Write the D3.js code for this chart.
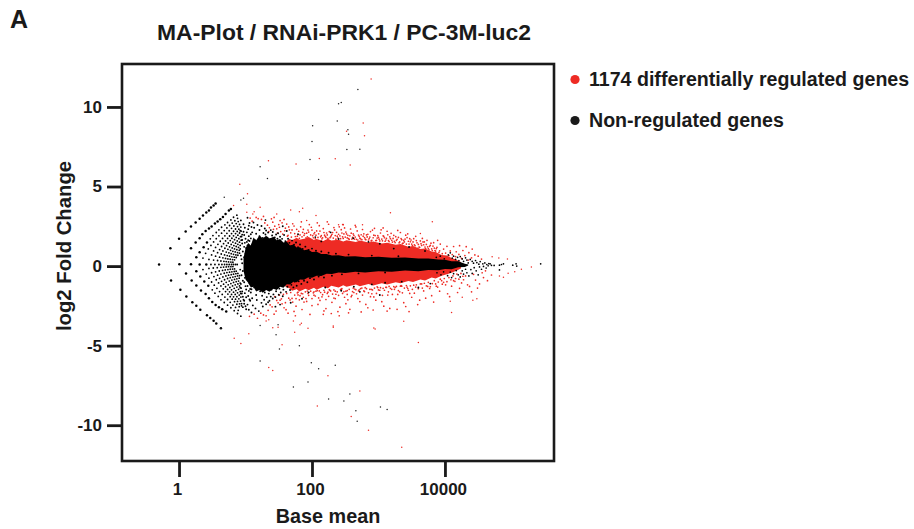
<!DOCTYPE html>
<html>
<head>
<meta charset="utf-8">
<script src="https://cdn.jsdelivr.net/npm/d3@7"></script>
<style>
  html, body { margin: 0; background: #fff; }
  text { font-family: "Liberation Sans", Arial, sans-serif; font-weight: bold; fill: #1a1a1a; }
</style>
</head>
<body>
<div id="plot"></div>
<script>
// all points are [log10 base mean, log2 fold change]

const xTicks = [1, 100, 10000];
const yTicks = [-10, -5, 0, 5, 10];
const legendLabels = ["1174 differentially regulated genes", "Non-regulated genes"];

// outer fan arcs (low counts), several genes stack on each dot
const fanOuter = [
  [-0.30,0.1],[-0.13,1.12],[0,1.71],[0.10,2.17],[0.18,2.49],[0.25,2.74],[0.31,2.97],[0.36,3.18],[0.41,3.37],[0.45,3.49],[0.48,3.68],[0.52,3.81],[0.55,3.93],
  [-0.12,-0.91],[0.02,-1.49],[0.11,-1.91],[0.20,-2.27],[0.26,-2.50],[0.32,-2.75],[0.42,-3.09],[0.47,-3.26],[0.52,-3.43],[0.56,-3.61],[0.63,-3.91],
  [0.005,0.12],[0.18,1.12],[0.25,1.48],[0.31,1.75],[0.35,2.0],[0.40,2.21],[0.45,2.36],[0.49,2.49],[0.54,2.67],[0.58,2.80],[0.62,2.95],[0.66,3.09],[0.70,3.28],[0.75,3.49],[0.78,3.58],
  [0.105,-0.47],[0.19,-0.91],[0.26,-1.22],[0.33,-1.54],[0.40,-1.75],[0.45,-2.02],[0.50,-2.25],[0.55,-2.44],[0.60,-2.59],[0.65,-2.72],[0.71,-2.85],
  [0.18,0.12],[0.26,0.56],[0.31,0.87],[0.37,1.19],[0.42,1.48],[0.26,-0.32],[0.32,-0.66],[0.38,-0.97],[0.44,-1.24],[0.31,0.1],[0.41,0.1]
];

// inner fan arcs, getting tighter towards the cloud
const fanInner = [
  [0.47,1.71],[0.51,1.92],[0.56,2.11],[0.60,2.28],[0.64,2.44],[0.69,2.59],[0.73,2.74],[0.78,2.9],[0.82,3.07],[0.87,3.2],
  [0.50,-1.49],[0.54,-1.7],[0.59,-1.91],[0.63,-2.12],[0.68,-2.29],[0.73,-2.46],[0.78,-2.62],[0.83,-2.8],[0.88,-2.98],[0.93,-3.15],
  [0.36,0.5],[0.40,0.8],[0.44,1.08],[0.48,1.3],[0.52,1.52],[0.56,1.72],[0.60,1.9],[0.64,2.07],[0.68,2.23],[0.72,2.4],[0.76,2.55],[0.8,2.7],[0.84,2.85],[0.88,3.0],
  [0.36,-0.22],[0.41,-0.5],[0.45,-0.76],[0.49,-1],[0.53,-1.2],[0.57,-1.4],[0.61,-1.6],[0.65,-1.78],[0.69,-1.95],[0.73,-2.1],[0.77,-2.28],[0.81,-2.45],[0.85,-2.6],[0.89,-2.78],
  [0.45,0.42],[0.49,0.7],[0.52,0.95],[0.55,1.17],[0.585,1.37],[0.62,1.56],[0.655,1.74],[0.69,1.9],[0.72,2.06],[0.755,2.22],[0.79,2.37],[0.825,2.52],[0.86,2.67],[0.89,2.8],
  [0.45,-0.15],[0.49,-0.42],[0.525,-0.66],[0.56,-0.86],[0.595,-1.06],[0.63,-1.25],[0.665,-1.43],[0.7,-1.6],[0.735,-1.76],[0.77,-1.92],[0.8,-2.08],[0.835,-2.24],[0.87,-2.4],[0.905,-2.55],
  [0.48,0.1],[0.52,0.38],[0.55,0.62],[0.58,0.84],[0.61,1.04],[0.64,1.23],[0.67,1.41],[0.70,1.58],[0.73,1.74],[0.76,1.89],[0.79,2.04],[0.82,2.19],[0.85,2.33],[0.88,2.48],[0.91,2.62],
  [0.515,-0.12],[0.55,-0.36],[0.58,-0.57],[0.61,-0.77],[0.64,-0.96],[0.67,-1.14],[0.70,-1.3],[0.73,-1.47],[0.76,-1.62],[0.79,-1.78],[0.82,-1.93],[0.85,-2.08],[0.88,-2.22],[0.91,-2.37],[0.94,-2.5],
  [0.54,0.1],[0.58,0.35],[0.61,0.56],[0.635,0.76],[0.66,0.95],[0.69,1.12],[0.715,1.29],[0.74,1.45],[0.77,1.6],[0.795,1.75],[0.82,1.9],[0.85,2.04],[0.875,2.18],[0.9,2.32],[0.93,2.45],
  [0.575,-0.1],[0.605,-0.31],[0.63,-0.5],[0.66,-0.68],[0.685,-0.86],[0.71,-1.02],[0.74,-1.18],[0.765,-1.34],[0.79,-1.49],[0.82,-1.64],[0.845,-1.78],[0.87,-1.92],[0.9,-2.06],[0.925,-2.2],
  [0.60,0.1],[0.63,0.32],[0.66,0.52],[0.685,0.7],[0.71,0.88],[0.735,1.05],[0.76,1.21],[0.785,1.36],[0.81,1.51],[0.835,1.66],[0.86,1.8],[0.885,1.94],[0.91,2.08],[0.935,2.2],
  [0.63,-0.08],[0.655,-0.27],[0.68,-0.45],[0.705,-0.62],[0.73,-0.78],[0.755,-0.94],[0.78,-1.1],[0.805,-1.25],[0.83,-1.4],[0.855,-1.54],[0.88,-1.68],[0.905,-1.82],[0.93,-1.95],
  [0.645,0.1],[0.675,0.3],[0.7,0.48],[0.725,0.66],[0.75,0.83],[0.775,0.99],[0.8,1.14],[0.825,1.29],[0.85,1.44],[0.875,1.58],[0.9,1.72],[0.925,1.85],[0.95,1.98],
  [0.67,-0.06],[0.695,-0.24],[0.72,-0.41],[0.745,-0.57],[0.77,-0.73],[0.795,-0.88],[0.82,-1.03],[0.845,-1.18],[0.87,-1.32],[0.895,-1.46],[0.92,-1.6],[0.945,-1.73],
  [0.685,0.1],[0.71,0.28],[0.735,0.45],[0.76,0.62],[0.785,0.78],[0.81,0.93],[0.835,1.08],[0.86,1.23],[0.885,1.37],[0.91,1.5],[0.935,1.63],
  [0.71,-0.05],[0.735,-0.22],[0.76,-0.38],[0.785,-0.54],[0.81,-0.69],[0.835,-0.84],[0.86,-0.98],[0.885,-1.12],[0.91,-1.25],[0.935,-1.38],
  [0.72,0.1],[0.745,0.26],[0.77,0.43],[0.795,0.58],[0.82,0.74],[0.845,0.89],[0.87,1.03],[0.895,1.17],[0.92,1.3],
  [0.745,-0.04],[0.77,-0.2],[0.795,-0.36],[0.82,-0.51],[0.845,-0.66],[0.87,-0.8],[0.895,-0.94],[0.92,-1.07],
  [0.755,0.1],[0.78,0.25],[0.805,0.41],[0.83,0.56],[0.855,0.7],[0.88,0.85],[0.905,0.99],
  [0.78,-0.04],[0.805,-0.19],[0.83,-0.34],[0.855,-0.48],[0.88,-0.62],[0.905,-0.76],
  [0.79,0.1],[0.81,0.24],[0.835,0.39],[0.86,0.54],[0.885,0.68],[0.91,0.81],
  [0.81,-0.03],[0.835,-0.18],[0.86,-0.32],[0.885,-0.46],[0.91,-0.6],[0.82,0.1],[0.85,0.1],[0.875,0.1]
];

// black speckle around the left of the cloud
const blackSpeckle = [
  [0.93,2.87],[0.97,2.63],[0.94,0.43],[0.96,-0.31],[0.98,1.21],[0.93,-1.12],[1.0,0.78],[0.99,-0.74],[0.95,1.64],[1.01,-1.47],[0.97,2.16],[1.03,0.19],[0.96,-1.93],[1.02,1.52],[0.98,-2.37],[1.05,0.97],[1.04,-0.53],[0.99,2.41],[1.06,-1.08],[1.01,-2.71],
  [1.03,3.04],[1.07,0.36],[1.05,1.88],[1.09,-0.2],[1.04,2.32],[1.08,-1.66],[1.06,2.71],[1.1,1.36],[1.07,-2.18],[1.11,0.62],[1.09,-2.92],[1.12,-0.86],[1.08,1.74],[1.13,-1.34],[1.1,2.12],[1.14,0.08],[1.11,-2.47],[1.13,1.1],[1.12,2.74],[1.15,-0.41],
  [1.14,1.62],[1.16,-1.82],[1.13,2.41],[1.17,0.86],[1.15,-2.66],[1.18,1.4],[1.16,2.03],[1.19,-1.21],[1.17,-2.13],[1.2,0.41],[1.18,2.58],[1.21,1.88],[1.19,-0.62],[1.22,-1.58],[1.2,-2.83],[1.23,1.14],[1.21,2.27],[1.24,-2.31],[1.22,1.61],[1.25,-1.03],
  [1.24,2.52],[1.26,1.77],[1.25,-1.86],[1.27,2.08],[1.26,-2.54],[1.28,1.42],[1.27,-1.32],[1.29,2.36],[1.28,-2.12],[1.3,1.63],[1.29,-1.66],[1.31,-2.4],[1.3,1.98],[1.32,-1.18],[1.31,2.24],[1.33,1.52],[1.32,-1.95],[1.34,-2.27],[1.33,1.79],[1.35,-1.42],
  [1.34,2.11],[1.36,1.41],[1.35,-1.73],[1.37,1.71],[1.36,-2.18],[1.38,2.26],[1.37,-1.26],[1.39,1.55],[1.38,-1.92],[1.4,1.92],[1.39,-1.48],[1.41,-2.04],[1.4,1.36],[1.42,-1.22],[1.41,2.14],[1.43,1.62],[1.42,-1.78],[1.44,1.8],[1.43,-1.36],[1.45,-1.95],
  [1.46,1.98],[1.47,1.46],[1.46,-1.58],[1.48,1.72],[1.48,-1.24],[1.49,2.06],[1.5,-1.8],[1.5,1.52],[1.51,-1.42],[1.52,1.84],[1.53,-1.66],[1.54,1.44],[1.54,-1.2],[1.55,1.71],[1.56,-1.9],[1.57,1.32],[1.57,-1.48],[1.58,1.95],[1.59,-1.16],[1.6,1.56],
  [1.61,-1.62],[1.62,1.34],[1.63,-1.3],[1.64,1.72],[1.65,-1.04],[1.66,1.46],[1.67,-1.5],[1.68,1.24],[1.69,-1.18],[1.7,1.6],[1.72,-1.34],[1.73,1.34],[1.74,-0.98],[1.76,1.48],[1.77,-1.24],[1.79,1.18],[1.8,-0.96],[1.82,1.36],[1.84,-1.12],[1.86,1.08],
  [1.88,-0.92],[1.9,1.22],[1.93,-1.02],[1.95,1.02],[1.97,-0.76],[2.0,1.1],[2.03,-0.84],[2.06,0.96],[2.1,-0.66],[2.14,0.92],[2.18,-0.72],[2.25,0.84],[2.3,-0.6],[2.36,0.78],[2.45,-0.52],[2.55,0.72],[2.7,-0.46],[2.9,0.66],[3.1,-0.4],[3.3,0.62],
  [1.62,2.2],[1.79,2.0],[2.14,1.55],[2.4,1.7],[2.62,1.75],[2.85,1.52],[3.02,1.4],[3.23,1.1],[3.46,1.2],[3.7,0.95],[2.28,2.12],[2.05,1.82],
  [1.95,-1.65],[2.2,-1.35],[2.44,-1.55],[2.63,-1.3],[2.9,-1.15],[3.1,-1.05],[3.35,-0.98],[3.6,-1.35],[3.78,-1.1],[2.72,-1.62],[3.02,-1.82],
  [1.3,2.89],[1.45,-2.55],[1.68,-2.3],[1.85,-2.05],[1.56,2.5],[1.52,-2.42],
  [0.92,2.22],[0.94,1.86],[0.95,1.42],[0.92,1.08],[0.96,0.92],[0.93,0.66],[0.95,0.18],[0.92,-0.22],[0.94,-0.58],[0.96,-0.92],[0.92,-1.36],[0.95,-1.6],[0.93,-1.72],[0.97,-2.12],[0.94,-2.36],[0.96,-2.58],
  [0.98,1.95],[1.0,1.72],[0.99,1.46],[1.01,1.14],[0.98,0.56],[1.0,0.28],[0.99,-0.1],[1.01,-0.42],[0.98,-1.02],[1.0,-1.26],[0.99,-1.7],[1.01,-1.96],[0.98,-2.18],[1.0,-2.52],
  [1.02,2.12],[1.04,1.62],[1.03,1.3],[1.05,2.54],[1.06,1.58],[1.03,-1.25],[1.05,-1.56],[1.04,-1.88],[1.06,-2.1],[1.03,-2.42],[1.05,-2.74],[1.07,-1.44],[1.08,2.0],[1.09,2.46],[1.09,-1.46],[1.1,-2.02]
];

// black tail on the right, where the cloud thins out
const blackTail = [
  [3.87,0.55],[3.93,0.62],[3.99,0.46],[4.05,0.7],[4.08,0.83],[4.11,0.5],[4.13,0.62],[4.16,0.42],[4.19,0.55],[4.21,0.35],[4.23,0.6],[4.26,0.45],[4.28,0.3],[4.31,0.52],[4.33,0.38],[4.35,0.2],[4.38,0.42],[4.41,0.3],[4.43,0.18],[4.46,0.35],[4.48,0.22],[4.51,0.12],[4.53,0.28],[4.57,0.14],[4.6,0.2],[4.63,0.1],[4.66,0.16],[4.68,0.14],
  [3.88,-0.42],[3.94,-0.55],[3.98,-0.36],[4.04,-0.6],[4.08,-0.38],[4.1,-0.72],[4.13,-0.48],[4.17,-0.28],[4.2,-0.55],[4.23,-0.68],[4.26,-0.3],[4.28,-0.5],[4.31,-0.2],[4.33,-0.42],[4.36,-0.62],[4.39,-0.22],[4.41,-0.46],[4.44,-0.1],[4.47,-0.3],[4.5,-0.55],[4.52,-0.05],[4.55,-0.2],[4.58,-0.02],[4.62,-0.12],[4.65,0.02],[4.7,0.05],
  [4.74,0.04],[4.82,0.06],[4.85,0.1],[4.88,0.14],[4.82,-0.24],[5.02,0.06],[5.07,0.14],[5.08,0.0],[5.44,0.14]
];

// isolated non-regulated genes far from zero
const blackOutliers = [
  [2.69,11.1],[2.44,10.28],[2.40,10.2],[2.38,9.11],[2.01,8.82],[2.54,8.57],[2.55,8.29],[2.0,7.83],[2.525,7.33],[2.72,7.35],[1.97,6.7],[1.22,6.24],[1.33,5.5],[2.10,5.44],
  [0.68,4.33],[0.97,4.27],[0.93,4.16],
  [0.63,-3.91],[1.22,-3.74],[1.49,-3.68],[1.46,-4.31],[1.81,-5.0],[1.51,-5.21],[1.22,-5.96],[1.99,-6.07],[2.10,-6.45],[2.35,-6.23],[1.94,-7.28],[1.72,-7.6],[2.57,-8.04],[2.25,-8.35],[2.48,-8.48],[2.66,-9.09],[3.03,-8.85],[3.13,-9.02],[2.68,-9.75]
];

// isolated regulated genes far from zero
const redOutliers = [
  [2.89,11.75],[2.77,8.99],[2.52,8.48],[2.79,8.19],[1.345,6.62],[1.76,6.41],[2.11,6.76],[2.35,6.74],[2.575,6.36],[0.914,5.15],
  [1.03,4.54],[1.02,3.89],[0.82,3.81],[1.22,3.7],[1.02,3.39],[1.13,3.41],[1.11,3.28],[1.47,3.28],[1.68,3.53],[1.81,3.41],[1.86,3.64],[2.06,3.18],[1.92,2.86],
  [3.18,3.35],[3.81,2.78],[2.76,2.59],[2.46,2.61],[2.40,2.59],[3.63,2.04],
  [1.35,-3.38],[1.31,-3.45],[1.72,-3.45],[1.84,-3.59],[1.82,-3.68],[1.41,-3.87],[1.49,-3.84],[1.94,-3.91],[2.32,-3.76],[2.32,-3.84],[2.93,-3.89],[2.95,-3.95],[3.38,-3.47],[1.74,-4.16],[1.05,-4.26],[0.83,-4.54],[0.93,-4.87],[1.55,-4.94],[3.60,-4.81],[1.35,-6.38],[1.41,-6.57],[2.24,-6.89],[2.72,-7.85],[2.08,-8.79],[2.59,-9.46],[2.85,-10.32],[3.35,-11.39],
  [4.71,0.58],[4.81,0.5],[4.94,0.45],[5.15,-0.2],[5.30,-0.05],[5.05,-0.35],[4.95,-0.45],[4.88,-0.7],[4.82,-0.62],[4.26,-1.96],[4.42,-2.15],[4.48,-2.05],[4.08,-2.21],[4.10,-2.92]
];

// red scatter above the solid band, no particular order
const redUpper = [
  [1.24,2.93],[1.36,2.41],[1.19,2.98],[1.53,2.17],[1.41,2.76],[1.62,2.64],[1.29,2.71],[1.47,2.34],[1.75,1.86],[1.58,2.93],[1.33,2.57],[1.68,2.09],[1.44,2.51],[1.83,2.47],[1.55,2.72],[1.71,2.66],[1.91,1.77],[1.64,1.93],[1.5,2.61],[1.86,2.12],
  [1.39,2.97],[1.77,2.31],[1.96,2.61],[1.6,2.38],[2.03,2.03],[1.81,1.74],[1.73,2.52],[1.94,2.26],[2.08,2.72],[1.88,1.93],[2.13,1.84],[1.99,2.44],[1.66,2.28],[2.17,2.36],[1.84,2.78],[2.05,1.72],[2.22,2.08],[1.92,2.07],[2.11,2.54],[2.01,1.91],
  [2.27,1.78],[1.97,1.68],[2.19,1.94],[2.33,2.42],[2.07,2.21],[2.25,2.63],[2.38,1.88],[2.15,1.71],[2.31,2.11],[2.44,2.29],[2.21,1.8],[2.36,1.69],[2.48,2.02],[2.29,1.92],[2.41,2.47],[2.53,1.77],[2.34,2.27],[2.46,1.84],[2.58,2.33],[2.4,2.0],
  [2.51,2.14],[2.63,1.93],[2.43,1.72],[2.56,1.68],[2.68,2.21],[2.49,2.4],[2.61,1.81],[2.73,1.71],[2.54,1.93],[2.66,2.46],[2.78,2.03],[2.59,2.07],[2.71,1.87],[2.83,1.83],[2.64,1.7],[2.76,2.3],[2.88,2.17],[2.69,1.64],[2.81,1.66],[2.93,1.94],
  [2.74,1.97],[2.86,1.73],[2.98,1.76],[2.79,1.79],[2.91,2.26],[3.03,2.08],[2.84,2.0],[2.96,1.6],[3.08,1.87],[2.89,1.58],[3.01,1.69],[3.13,2.19],[2.94,2.37],[3.06,1.59],[3.18,1.72],[2.99,1.91],[3.11,1.64],[3.23,1.93],[3.04,2.28],[3.16,1.54],
  [3.28,1.68],[3.09,1.78],[3.21,1.51],[3.33,2.11],[3.14,1.97],[3.26,1.85],[3.38,1.61],[3.19,2.06],[3.31,1.46],[3.43,1.79],[3.24,1.56],[3.36,1.41],[3.48,1.53],[3.29,2.24],[3.41,1.94],[3.53,1.72],[3.34,1.73],[3.46,1.38],[3.58,1.46],[3.39,1.52],
  [3.51,1.28],[3.63,1.58],[3.44,2.03],[3.56,1.87],[3.68,1.34],[3.49,1.64],[3.61,1.2],[3.73,1.62],[3.54,1.34],[3.66,1.74],[3.78,1.31],[3.59,1.12],[3.71,1.1],[3.83,1.47],[3.64,1.41],[3.76,1.02],[3.88,1.18],[3.69,1.52],[3.81,0.98],[3.93,1.38],
  [3.74,1.21],[3.86,0.94],[3.98,1.07],[3.79,1.44],[3.91,0.86],[4.03,1.24],[3.84,1.13],[3.96,0.78],[4.08,0.95],[3.89,1.62],[4.01,0.82],[4.13,1.23],[4.06,0.66],[4.17,0.9],[4.11,0.72],[4.22,1.28],[4.16,0.6],[4.27,0.98],[4.21,0.73],[4.32,1.22],
  [4.25,0.48],[4.36,0.84],[4.3,0.66],[4.41,1.07],[4.35,0.38],[4.45,0.7],[4.4,0.52],[4.5,0.62],[4.15,0.36],[4.55,0.44],[1.1,2.82],[1.16,3.06],[1.07,3.02],[1.27,3.12],[1.43,3.06],[1.52,2.86],[2.23,2.78],[2.47,2.6],[2.65,2.56],[3.07,2.4],
  [1.35,2.16],[1.42,2.31],[1.48,2.08],[1.51,2.44],[1.56,2.01],[1.59,2.22],[1.63,1.88],[1.65,2.46],[1.69,1.82],[1.7,2.27],[1.74,2.04],[1.78,1.88],[1.8,2.19],[1.82,1.96],[1.85,1.84],[1.87,2.31],[1.89,2.04],[1.93,1.84],[1.95,2.14],[1.98,1.96],
  [2.0,2.26],[2.02,1.78],[2.04,2.11],[2.06,1.94],[2.09,1.8],[2.1,2.03],[2.12,2.2],[2.14,1.91],[2.16,1.78],[2.18,2.11],[2.2,1.86],[2.23,1.96],[2.24,1.74],[2.26,2.17],[2.28,1.84],[2.3,2.0],[2.32,1.76],[2.35,1.92],[2.37,2.12],[2.39,1.78],
  [2.42,1.9],[2.45,2.08],[2.47,1.74],[2.5,1.82],[2.52,2.02],[2.55,1.72],[2.57,1.9],[2.6,1.7],[2.62,2.02],[2.65,1.82],[2.67,1.68],[2.7,1.95],[2.72,1.76],[2.75,1.66],[2.77,1.88],[2.8,1.7],[2.82,1.96],[2.85,1.64],[2.87,1.82],[2.9,1.62],
  [2.92,1.78],[2.95,1.92],[2.97,1.62],[3.0,1.8],[3.02,1.58],[3.05,1.7],[3.07,1.9],[3.1,1.56],[3.12,1.74],[3.15,1.6],[3.17,1.84],[3.2,1.62],[3.22,1.74],[3.25,1.48],[3.27,1.62],[3.3,1.8],[3.32,1.52],[3.35,1.66],[3.37,1.44],[3.4,1.7],
  [3.42,1.38],[3.45,1.56],[3.47,1.72],[3.5,1.38],[3.52,1.52],[3.55,1.28],[3.57,1.6],[3.6,1.36],[3.62,1.18],[3.65,1.3],[3.67,1.52],[3.7,1.2],[3.72,1.36],[3.75,1.1],[3.77,1.24],[3.8,1.08],[3.82,1.26],[3.85,0.98],[3.87,1.1],[3.92,0.96]
];

// red scatter below the solid band, no particular order
const redLower = [
  [1.06,-3.16],[1.18,-3.28],[1.13,-3.02],[1.27,-3.07],[1.34,-2.78],[1.23,-2.96],[1.4,-2.56],[1.31,-3.12],[1.46,-2.83],[1.37,-2.44],[1.52,-2.14],[1.43,-3.02],[1.58,-2.62],[1.49,-2.31],[1.64,-2.96],[1.55,-2.37],[1.7,-2.03],[1.61,-2.74],[1.76,-2.52],[1.67,-2.13],
  [1.82,-1.86],[1.73,-2.85],[1.88,-2.26],[1.79,-1.81],[1.94,-1.72],[1.85,-2.73],[2.0,-2.48],[1.91,-2.04],[2.06,-1.58],[1.97,-3.04],[2.12,-2.16],[2.03,-1.83],[2.18,-2.82],[2.09,-2.41],[2.24,-1.64],[2.15,-1.93],[2.3,-2.28],[2.21,-2.67],[2.36,-1.77],[2.27,-1.52],
  [2.42,-2.58],[2.33,-2.01],[2.48,-1.61],[2.39,-2.86],[2.54,-2.12],[2.45,-1.42],[2.6,-1.84],[2.51,-2.36],[2.66,-1.48],[2.57,-2.72],[2.72,-2.23],[2.63,-1.66],[2.78,-1.56],[2.69,-2.04],[2.84,-2.62],[2.75,-1.38],[2.9,-1.74],[2.81,-2.41],[2.96,-2.14],[2.87,-1.46],
  [3.02,-1.52],[2.93,-1.94],[3.08,-2.52],[2.99,-1.35],[3.14,-1.82],[3.05,-2.24],[3.2,-1.46],[3.11,-1.33],[3.26,-2.08],[3.17,-2.66],[3.32,-1.62],[3.23,-1.29],[3.38,-2.3],[3.29,-1.78],[3.44,-1.41],[3.35,-1.26],[3.5,-1.96],[3.41,-2.54],[3.56,-1.32],[3.47,-1.72],
  [3.62,-2.14],[3.53,-1.2],[3.68,-1.56],[3.59,-2.42],[3.74,-1.28],[3.65,-1.12],[3.8,-1.86],[3.71,-2.02],[3.86,-1.12],[3.77,-1.41],[3.92,-1.58],[3.83,-2.26],[3.98,-1.02],[3.89,-1.32],[4.04,-1.74],[3.95,-0.92],[4.1,-1.26],[4.01,-1.18],[4.16,-0.78],[4.07,-1.92],
  [4.22,-1.4],[4.13,-0.92],[4.28,-0.86],[4.19,-1.66],[4.34,-1.18],[4.25,-1.06],[4.4,-1.62],[4.31,-0.62],[4.46,-0.88],[4.37,-1.28],[4.52,-1.12],[4.43,-0.52],[4.58,-0.72],[4.49,-1.38],[4.64,-0.92],[4.56,-0.42],[4.7,-0.56],[4.61,-0.3],
  [1.78,-1.68],[1.86,-1.74],[1.93,-1.57],[2.02,-1.68],[2.11,-1.56],[2.19,-1.64],[2.26,-1.48],[2.35,-1.58],[2.44,-1.45],[2.53,-1.54],[2.62,-1.38],[2.71,-1.5],[2.8,-1.36],[2.89,-1.46],[2.98,-1.3],[3.07,-1.4],[3.16,-1.28],[3.25,-1.34],[3.34,-1.22],[3.43,-1.32],
  [2.17,-3.03],[2.29,-2.98],[2.41,-3.12],[2.55,-2.94],[2.74,-2.88],[1.75,-3.12],[2.92,-2.76],[3.13,-2.83],[3.28,-2.72],[3.46,-2.86],
  [1.44,-1.92],[1.47,-2.16],[1.51,-1.82],[1.54,-2.06],[1.57,-1.78],[1.6,-2.3],[1.62,-1.72],[1.65,-2.02],[1.68,-1.66],[1.71,-2.26],[1.74,-1.82],[1.76,-2.04],[1.79,-1.64],[1.81,-2.12],[1.84,-1.72],[1.87,-1.96],[1.9,-1.62],[1.92,-2.22],[1.95,-1.84],[1.98,-1.58],
  [2.0,-2.04],[2.03,-1.62],[2.05,-1.88],[2.08,-1.54],[2.1,-2.0],[2.13,-1.66],[2.16,-1.8],[2.18,-1.52],[2.21,-2.1],[2.23,-1.72],[2.25,-1.9],[2.28,-1.56],[2.31,-1.76],[2.33,-1.5],[2.35,-2.04],[2.38,-1.62],[2.4,-1.84],[2.43,-1.48],[2.46,-1.72],[2.49,-1.96],
  [2.51,-1.58],[2.53,-1.78],[2.56,-1.46],[2.59,-1.92],[2.61,-1.6],[2.64,-1.44],[2.67,-1.74],[2.7,-1.56],[2.73,-1.42],[2.76,-1.82],[2.79,-1.6],[2.82,-1.42],[2.85,-1.68],[2.88,-1.92],[2.91,-1.5],[2.94,-1.38],[2.97,-1.72],[3.0,-1.5],[3.03,-1.36],[3.06,-1.84],
  [3.09,-1.52],[3.12,-1.34],[3.15,-1.62],[3.18,-1.4],[3.21,-1.78],[3.24,-1.46],[3.27,-1.28],[3.3,-1.54],[3.33,-1.26],[3.36,-1.68],[3.39,-1.38],[3.42,-1.22],[3.45,-1.52],[3.48,-1.24],[3.51,-1.46],[3.54,-1.7],[3.57,-1.18],[3.6,-1.42],[3.63,-1.12],[3.66,-1.38],
  [3.69,-1.08],[3.72,-1.24],[3.75,-1.02],[3.78,-1.3],[3.81,-1.1],[3.84,-0.92],[3.87,-1.26],[3.9,-1.0],[3.93,-0.82],[3.96,-1.14],[3.99,-0.78],[4.03,-0.98],[4.06,-0.72],[4.09,-0.86],[4.12,-0.62],[4.15,-0.96],[4.18,-0.5],[4.21,-0.82],[4.24,-0.46],[4.27,-0.64]
];

// solid part of the red band: [log10 base mean, top, bottom]
const redBand = [
  [1.6,1.5,-1.3],[1.66,1.72,-1.4],[1.7,1.62,-1.55],[1.77,1.78,-1.46],[1.81,1.66,-1.6],[1.9,1.74,-1.42],[1.95,1.82,-1.52],[2.03,1.64,-1.36],[2.07,1.7,-1.48],[2.17,1.58,-1.3],[2.24,1.72,-1.4],[2.29,1.6,-1.24],[2.4,1.66,-1.34],[2.47,1.54,-1.2],[2.52,1.62,-1.3],[2.66,1.52,-1.16],[2.72,1.6,-1.26],[2.85,1.48,-1.12],[2.92,1.54,-1.22],[3.05,1.42,-1.08],[3.13,1.46,-1.16],[3.26,1.34,-1.02],[3.33,1.38,-1.08],[3.45,1.22,-0.94],[3.52,1.26,-1.0],[3.63,1.08,-0.84],[3.7,1.1,-0.9],[3.8,0.92,-0.72],[3.86,0.88,-0.78],[3.95,0.7,-0.6],[4.03,0.66,-0.52],[4.1,0.5,-0.42],[4.18,0.38,-0.28],[4.24,0.25,-0.15]
];

// solid black core: [log10 base mean, top, bottom]
const blackBand = [
  [0.97,0.5,-0.3],[1.0,1.1,-0.85],[1.04,1.45,-1.05],[1.08,1.3,-1.35],[1.12,1.8,-1.3],[1.16,1.62,-1.6],[1.21,1.92,-1.5],[1.26,1.74,-1.68],[1.31,1.9,-1.5],[1.36,1.72,-1.62],[1.42,1.84,-1.42],[1.47,1.62,-1.5],[1.52,1.7,-1.3],[1.57,1.48,-1.36],[1.62,1.54,-1.14],[1.67,1.3,-1.16],[1.72,1.36,-0.98],[1.77,1.16,-1.02],[1.82,1.18,-0.84],[1.88,1.0,-0.86],[1.94,1.04,-0.72],[2.0,0.88,-0.74],[2.07,0.9,-0.6],[2.14,0.76,-0.62],[2.22,0.76,-0.48],[2.3,0.66,-0.5],[2.4,0.68,-0.4],[2.5,0.6,-0.44],[2.65,0.62,-0.36],[2.8,0.56,-0.4],[3.0,0.58,-0.32],[3.2,0.52,-0.36],[3.4,0.54,-0.28],[3.6,0.48,-0.32],[3.75,0.48,-0.24],[3.9,0.42,-0.26],[4.0,0.4,-0.18],[4.1,0.3,-0.2],[4.2,0.3,-0.08],[4.3,0.14,-0.05],[4.35,0.1,0.04]
];

const width = 914;
const height = 529;
const red = "#ee2b24";
const black = "#000";
const ink = "#1a1a1a";

const svg = d3.select("div#plot")
    .append("svg")
    .attr("width", width)
    .attr("height", height)
    .style("display", "block");

const x = d3.scaleLog().domain([0.1387, 437000]).range([122, 554]);
const y = d3.scaleLinear().domain([-12.25, 12.7]).range([461, 64]);

const px = d => x(Math.pow(10, d[0]));
const py = d => y(d[1]);

const band = d3.area()
    .x(px)
    .y0(d => y(d[2]))
    .y1(py);

function dots(data, color, r) {
    svg.append("g")
        .selectAll("circle")
        .data(data)
        .enter()
        .append("circle")
        .attr("cx", px)
        .attr("cy", py)
        .attr("r", r)
        .attr("fill", color);
}

// red first, black goes over it
svg.append("path").attr("d", band(redBand)).attr("fill", red);
dots(redUpper, red, 0.85);
dots(redLower, red, 0.85);
dots(redOutliers, red, 0.75);
dots(blackTail, black, 0.85);
dots(blackSpeckle, black, 0.95);
dots(fanInner, black, 0.9);
dots(fanOuter, black, 1.25);
dots(blackOutliers, "#222", 0.75);
svg.append("path").attr("d", band(blackBand)).attr("fill", black);

// frame
svg.append("rect")
    .attr("x", 122)
    .attr("y", 64)
    .attr("width", 432)
    .attr("height", 397)
    .attr("fill", "none")
    .attr("stroke", ink)
    .attr("stroke-width", 2.6);

const xAxis = svg.append("g")
    .attr("transform", "translate(0,461)")
    .call(d3.axisBottom(x).tickValues(xTicks).tickFormat(d => String(d)).tickSize(16).tickPadding(6));

const yAxis = svg.append("g")
    .attr("transform", "translate(122,0)")
    .call(d3.axisLeft(y).tickValues(yTicks).tickFormat(d => String(d)).tickSize(15).tickPadding(5));

[xAxis, yAxis].forEach(function(a) {
    a.select(".domain").remove();
    a.selectAll("line").attr("stroke", ink).attr("stroke-width", 2.8);
    a.selectAll("text").attr("font-size", 17).attr("fill", ink)
        .style("font-family", '"Liberation Sans", Arial, sans-serif').style("font-weight", "bold");
});
xAxis.selectAll("text").attr("dx", -2);

// titles
svg.append("text").attr("x", 10).attr("y", 28).attr("font-size", 25).text("A");
svg.append("text").attr("x", 344).attr("y", 40).attr("text-anchor", "middle").attr("font-size", 22.9)
    .text("MA-Plot / RNAi-PRK1 / PC-3M-luc2");
svg.append("text").attr("x", 328).attr("y", 523).attr("text-anchor", "middle").attr("font-size", 19.8)
    .text("Base mean");
svg.append("text").attr("transform", "translate(71,246) rotate(-90)").attr("text-anchor", "middle").attr("font-size", 20.3)
    .text("log2 Fold Change");

// legend
const legend = svg.append("g")
    .selectAll("g")
    .data(legendLabels)
    .enter()
    .append("g")
    .attr("transform", (d, i) => "translate(575," + (79.5 + i * 41) + ")");
legend.append("circle").attr("r", 4.6).attr("fill", (d, i) => i === 0 ? red : ink);
legend.append("text").attr("x", 14).attr("y", 6.5).attr("font-size", 19.6).text(d => d);
</script>
</body>
</html>
